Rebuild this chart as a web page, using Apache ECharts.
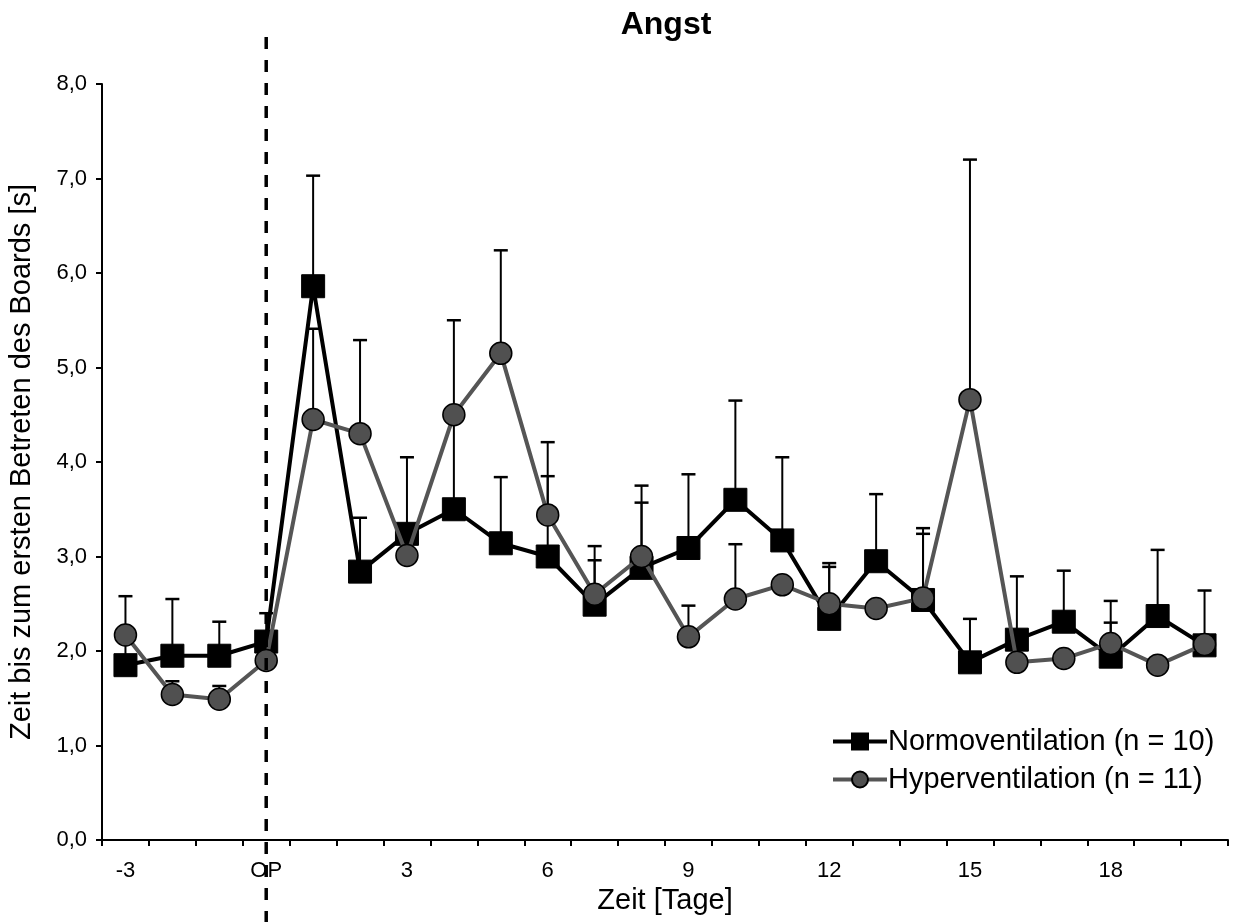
<!DOCTYPE html>
<html>
<head>
<meta charset="utf-8">
<script src="https://cdn.jsdelivr.net/npm/echarts@6/dist/echarts.min.js"></script>
<style>html,body{margin:0;padding:0;background:#fff}#c{width:1234px;height:922px}</style>
</head>
<body>
<div id="c"></div>
<script>
const categories = ['-3','-2','-1','OP','1','2','3','4','5','6','7','8','9','10','11','12','13','14','15','16','17','18','19','20'];
const normoMean   = [1.85,1.95,1.95,2.10,5.86,2.84,3.24,3.50,3.14,3.00,2.49,2.88,3.09,3.60,3.17,2.34,2.95,2.54,1.88,2.12,2.31,1.94,2.37,2.06];
const normoErrTop = [2.58,2.55,2.31,2.40,7.03,3.41,4.05,4.50,3.84,3.85,2.96,3.57,3.87,4.65,4.05,2.89,3.66,3.24,2.34,2.79,2.85,2.30,3.07,2.64];
const hyperMean   = [2.17,1.54,1.49,1.90,4.45,4.30,3.01,4.50,5.15,3.44,2.60,3.00,2.15,2.55,2.70,2.50,2.45,2.56,4.66,1.88,1.92,2.08,1.85,2.07];
const hyperErrTop = [null,1.68,1.63,null,5.41,5.29,null,5.50,6.24,4.21,3.11,3.75,2.48,3.13,null,2.93,null,3.30,7.20,null,null,2.53,null,null];
const yTicks = [0,1,2,3,4,5,6,7,8];

const FONT = '"Liberation Sans", Arial, sans-serif';

function errData(mean, top) {
  const out = [];
  mean.forEach((m, i) => { if (top[i] != null) out.push([i, m, top[i]]); });
  return out;
}
function renderErr(params, api) {
  const i = api.value(0), m = api.value(1), t = api.value(2);
  const p1 = api.coord([i, m]);
  const p2 = api.coord([i, t]);
  return {
    type: 'group',
    children: [
      { type: 'line', shape: { x1: p1[0], y1: p1[1], x2: p2[0], y2: p2[1] }, style: { stroke: '#000', lineWidth: 2 } },
      { type: 'line', shape: { x1: p2[0] - 7, y1: p2[1], x2: p2[0] + 7, y2: p2[1] }, style: { stroke: '#000', lineWidth: 2.5 } }
    ]
  };
}

const chart = echarts.init(document.getElementById('c'));
chart.setOption({
  animation: false,
  backgroundColor: '#fff',
  textStyle: { fontFamily: FONT, color: '#000' },
  title: {
    text: 'Angst', left: 661, top: 4, textAlign: 'center',
    textStyle: { fontFamily: FONT, fontSize: 32, fontWeight: 'bold', color: '#000' }
  },
  grid: { left: 102, right: 6, top: 84, bottom: 82, containLabel: false, outerBoundsMode: 'none' },
  legend: {
    orient: 'vertical', left: 826, top: 722,
    itemWidth: 54, itemHeight: 20, itemGap: 9,
    textStyle: { fontFamily: FONT, fontSize: 29, color: '#000', padding: [0, 0, 0, -4] },
    data: [
      { name: 'Normoventilation (n = 10)', lineStyle: { width: 4, color: '#000' } },
      { name: 'Hyperventilation (n = 11)', lineStyle: { width: 4, color: '#555555' } }
    ]
  },
  xAxis: {
    type: 'category', data: categories, boundaryGap: true,
    name: 'Zeit [Tage]', nameLocation: 'middle', nameGap: 45,
    nameTextStyle: { fontFamily: FONT, fontSize: 29, color: '#000' },
    axisLine: { lineStyle: { color: '#000', width: 2 } },
    axisTick: { show: true, interval: 0, length: 6, lineStyle: { color: '#000', width: 2 } },
    axisLabel: { interval: 2, margin: 20, fontFamily: FONT, fontSize: 22, color: '#000' },
    splitLine: { show: false }
  },
  yAxis: {
    type: 'value', min: yTicks[0], max: yTicks[yTicks.length - 1], interval: 1,
    name: 'Zeit bis zum ersten Betreten des Boards [s]', nameLocation: 'middle', nameGap: 66, nameRotate: 90,
    nameTextStyle: { fontFamily: FONT, fontSize: 29, color: '#000' },
    axisLine: { show: true, lineStyle: { color: '#000', width: 2 } },
    axisTick: { show: true, length: 6, lineStyle: { color: '#000', width: 2 } },
    axisLabel: { margin: 15, fontFamily: FONT, fontSize: 22, color: '#000', formatter: v => v.toFixed(1).replace('.', ',') },
    splitLine: { show: false }
  },
  series: [
    { type: 'custom', name: 'errN', data: errData(normoMean, normoErrTop), renderItem: renderErr, z: 1, silent: true },
    { type: 'custom', name: 'errH', data: errData(hyperMean, hyperErrTop), renderItem: renderErr, z: 1, silent: true },
    {
      type: 'line', name: 'Normoventilation (n = 10)', data: normoMean, z: 3,
      symbol: 'rect', symbolSize: 23,
      lineStyle: { color: '#000', width: 4 },
      itemStyle: { color: '#000', borderColor: '#000', borderWidth: 1 }
    },
    {
      type: 'line', name: 'Hyperventilation (n = 11)', data: hyperMean, z: 4,
      symbol: 'circle', symbolSize: 22,
      lineStyle: { color: '#555555', width: 4 },
      itemStyle: { color: '#505050', borderColor: '#000', borderWidth: 1.5 }
    }
  ]
});

const xOP = chart.convertToPixel({ xAxisIndex: 0 }, 'OP');
chart.setOption({
  graphic: [{
    type: 'line', z: 10,
    shape: { x1: xOP, y1: 37, x2: xOP, y2: 922 },
    style: { stroke: '#000', lineWidth: 3.5, lineDash: [12, 11] }
  }]
});
</script>
</body>
</html>
